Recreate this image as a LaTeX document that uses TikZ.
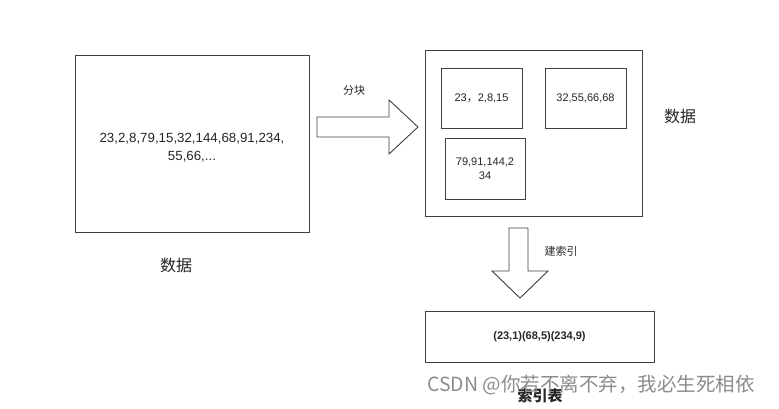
\documentclass[tikz,border=0pt]{standalone}
\usepackage{fontspec}
\setmainfont{Liberation Sans}
\newfontfamily\cjk{Noto Sans CJK SC}
\begin{document}
\begin{tikzpicture}[x=1pt,y=-1pt,
  box/.style={draw=black!75,line width=0.9pt,fill=white},
  txt/.style={font=\fontsize{11}{14}\selectfont,align=center,text=black!85},
  lab/.style={font=\cjk\fontsize{11}{13}\selectfont,text=black!85}]
\useasboundingbox (0,0) rectangle (779,408);
\fill[white] (0,0) rectangle (779,408);
\node[box,minimum width=234pt,minimum height=177pt] (src) at (192,143.5) {};
\node[txt,font=\fontsize{13.3}{18}\selectfont] (srct) at (192,148) {23,2,8,79,15,32,144,68,91,234,\\55,66,...};
\node[lab,font=\cjk\fontsize{16}{18}\selectfont] (l1) at (176,265) {数据};
\node[box,minimum width=217pt,minimum height=166pt] (big) at (533.5,133) {};
\node[box,minimum width=81pt,minimum height=60pt] (b1) at (481.5,98) {};
\node[txt] at (b1) {23\cjk，\rmfamily 2,8,15};
\node[box,minimum width=81pt,minimum height=60pt] (b2) at (585.5,98) {};
\node[txt] at (b2) {32,55,66,68};
\node[box,minimum width=80pt,minimum height=61pt] (b3) at (485,168.5) {};
\node[txt] at (b3) {79,91,144,2\\34};
\node[lab,font=\cjk\fontsize{16}{18}\selectfont] (l2) at (680,116) {数据};
\draw[box] (317,117) -- (389,117) -- (389,100) -- (418,127) -- (389,154) -- (389,137) -- (317,137) -- cycle;
\node[lab,font=\cjk\fontsize{11}{13}\selectfont] (l3) at (354,90) {分块};
\draw[box] (509,228) -- (528,228) -- (528,271) -- (548,271) -- (520,298) -- (492,271) -- (509,271) -- cycle;
\node[lab,font=\cjk\fontsize{11}{13}\selectfont] (l4) at (561,251) {建索引};
\node[box,minimum width=229pt,minimum height=51pt] (idx) at (539.5,336.5) {};
\node[txt,font=\bfseries\fontsize{11}{13}\selectfont] at (idx) {(23,1)(68,5)(234,9)};
\node[lab,font=\cjk\bfseries\fontsize{15}{17}\selectfont] (l5) at (540,396) {索引表};
\node[font=\cjk\fontsize{19.5}{21}\selectfont,text=black!45,anchor=west,inner sep=0pt] (wm) at (427,385) {CSDN @你若不离不弃，我必生死相依};
\end{tikzpicture}
\end{document}
